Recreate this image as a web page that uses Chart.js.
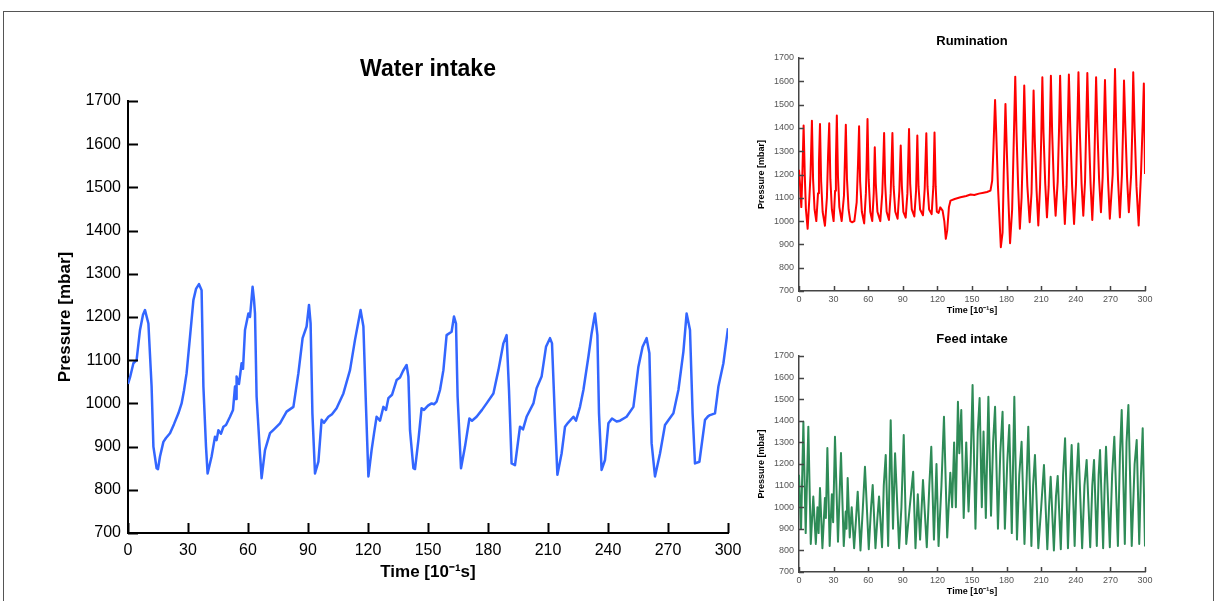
<!DOCTYPE html>
<html>
<head>
<meta charset="utf-8">
<script src="https://cdn.jsdelivr.net/npm/chart.js@4.4.1/dist/chart.umd.min.js"></script>
<style>
  html, body { margin: 0; padding: 0; background: #fff; }
  #page { position: relative; width: 1214px; height: 601px; overflow: hidden; }
  #frame { position: absolute; left: 3px; top: 11px; width: 1209px; height: 600px; border: 1px solid #555; border-bottom: none; }
  canvas { position: absolute; }
</style>
</head>
<body>
<div id="page">
  <div id="frame"></div>
  <canvas id="waterChart" width="760" height="601" style="left:0;top:0"></canvas>
  <canvas id="rumChart" width="450" height="300" style="left:730px;top:20px"></canvas>
  <canvas id="feedChart" width="450" height="283" style="left:730px;top:318px"></canvas>
</div>
<script>
// tick labels shared by all three panels
const timeTicks = [0, 30, 60, 90, 120, 150, 180, 210, 240, 270, 300];
const pressureTicks = [700, 800, 900, 1000, 1100, 1200, 1300, 1400, 1500, 1600, 1700];

// Water intake
const waterTime = [0, 1, 2.7, 4.3, 6, 7.5, 8.5, 10.2, 11.8, 12.7, 14.3, 15, 16, 17.7, 19, 21, 23, 25.2, 26.8, 28, 29.3, 31, 32.7, 34, 35.5, 36.8, 37.7, 39, 39.8, 41.8, 43.5, 44.3, 45.2, 46.5, 47.7, 49, 51, 52.5, 53.5, 54, 54.3, 55.5, 56.8, 57.5, 58.5, 60.2, 61, 62.3, 63, 63.5, 64.3, 66, 66.8, 68.5, 71, 73, 76, 79.3, 82.7, 85.2, 87.3, 89.3, 90.5, 91.3, 92.2, 93.5, 95.2, 96.8, 98, 100.2, 102, 104.3, 107.7, 111, 113.5, 116.3, 117.7, 119, 120.2, 121.8, 123, 124.3, 126, 127.7, 129, 130.2, 132, 134.3, 136, 137.5, 139.3, 140.2, 141, 142.7, 143.5, 145.2, 146.8, 148, 150, 151.8, 153, 154.3, 156, 157.7, 159.3, 161.8, 163, 164, 164.8, 166.5, 168.5, 170.7, 172, 174.3, 177, 179.3, 182.7, 185.2, 187.7, 189.3, 190.5, 191.8, 193.5, 196, 197.5, 199.3, 202.7, 204.3, 206.8, 209, 211, 212, 213.5, 214.7, 216.8, 218.5, 220, 222.7, 224, 226, 227.7, 230.2, 231.8, 233.5, 234.7, 235.5, 236.8, 238.5, 240.2, 242, 244.3, 246, 249.3, 252.7, 255.2, 257.3, 259.3, 260.7, 261.8, 263.5, 266, 268.5, 270, 272.7, 275.2, 277.7, 279.3, 281, 282.3, 283.5, 285.7, 288.5, 290, 291, 293.5, 295.2, 297.7, 300];
const waterPressure = [1045, 1060, 1093, 1100, 1170, 1205, 1216, 1185, 1039, 900, 850, 848, 877, 911, 920, 931, 952, 977, 1000, 1030, 1070, 1154, 1239, 1265, 1276, 1262, 1039, 900, 838, 877, 923, 915, 938, 930, 946, 950, 969, 985, 1039, 1010, 1062, 1045, 1093, 1080, 1170, 1208, 1200, 1270, 1240, 1208, 1016, 884, 827, 892, 931, 940, 954, 981, 992, 1070, 1151, 1178, 1228, 1185, 977, 838, 865, 962, 955, 969, 975, 989, 1023, 1077, 1147, 1216, 1178, 992, 831, 892, 930, 969, 960, 992, 985, 1012, 1020, 1054, 1060, 1075, 1089, 1062, 938, 850, 848, 915, 989, 985, 995, 1000, 998, 1004, 1031, 1077, 1158, 1166, 1201, 1185, 1016, 850, 900, 965, 960, 969, 985, 1000, 1023, 1077, 1139, 1158, 1031, 861, 857, 946, 940, 969, 1000, 1035, 1062, 1131, 1151, 1139, 962, 835, 884, 946, 955, 969, 960, 992, 1031, 1108, 1162, 1208, 1158, 977, 846, 869, 954, 965, 958, 960, 969, 992, 1085, 1131, 1151, 1116, 908, 831, 884, 950, 960, 977, 1031, 1120, 1208, 1170, 977, 861, 865, 962, 970, 973, 977, 1039, 1093, 1174];

// Rumination (small red panel)
const rumTime = [0, 1, 2, 2.8, 4, 5, 6, 7.5, 9, 10, 11.2, 12.2, 13.5, 15, 16.5, 17.3, 18.2, 19.2, 20.5, 22.5, 24.2, 25.2, 26.2, 27.2, 28.5, 30, 31.3, 32, 32.8, 33.8, 35, 37, 39, 39.8, 40.6, 41.6, 43, 44.5, 46, 48, 50, 51.2, 52.1, 53, 54.5, 56.5, 58, 58.7, 59.4, 60.4, 61.8, 63.5, 64.8, 65.7, 66.6, 68, 70.5, 72.2, 73, 73.8, 74.7, 76, 78, 79.5, 81, 82, 83.5, 85.5, 87, 88.2, 89.2, 90.5, 92.5, 94, 95.4, 96.4, 97.8, 100, 101.5, 102.6, 103.6, 105, 107.5, 109, 110.4, 111.4, 112.8, 115, 116.5, 117.5, 118.5, 119.5, 121, 122.5, 124.5, 126, 127.3, 128.5, 130, 131.4, 135, 140, 145, 148.7, 152, 156, 160, 163, 166, 167.5, 168.5, 170, 171, 172.5, 175, 176.5, 177.5, 179, 180.2, 181.5, 183, 184.8, 186, 187.5, 188.6, 190, 191.5, 193, 194.2, 195.3, 196.5, 198, 200, 201.6, 202.4, 203.4, 204.5, 206, 207.5, 209, 210, 211, 212, 213.5, 215, 216.5, 217.5, 218.4, 219.5, 221, 222.5, 224.3, 225.4, 226.4, 227.5, 229, 230.5, 232, 233, 234, 235.2, 236.8, 238.5, 240.2, 241.3, 242.3, 243.4, 245, 246.5, 248, 249, 250, 251.2, 252.8, 254.3, 255.8, 256.7, 257.6, 258.7, 260.2, 261.8, 263.3, 264.3, 265.3, 266.4, 268, 269.5, 272, 273, 274, 275.1, 276.6, 278.2, 280, 281, 281.8, 283, 284.5, 286, 288, 289, 289.8, 291, 292.6, 294.5, 296.5, 298, 299, 300];
const rumPressure = [1220, 1150, 1060, 1180, 1410, 1200, 1050, 967, 1100, 1200, 1431, 1180, 1050, 1000, 1120, 1250, 1417, 1170, 1040, 980, 1100, 1280, 1420, 1180, 1050, 1000, 1130, 1260, 1453, 1190, 1060, 1000, 1110, 1260, 1413, 1180, 1050, 1000, 995, 1000, 1080, 1250, 1407, 1170, 1040, 990, 1120, 1260, 1438, 1180, 1040, 1000, 1120, 1317, 1160, 1040, 1000, 1120, 1240, 1378, 1160, 1040, 1005, 1120, 1378, 1150, 1040, 1010, 1130, 1324, 1150, 1040, 1015, 1120, 1395, 1160, 1050, 1020, 1130, 1367, 1150, 1050, 1025, 1140, 1377, 1150, 1050, 1030, 1150, 1380, 1150, 1040, 1035, 1059, 1045, 1000, 924, 960, 1060, 1088, 1095, 1102, 1108, 1114, 1112, 1118, 1122, 1125, 1131, 1174, 1300, 1520, 1380, 1150, 888, 950, 1200, 1503, 1300, 1100, 905, 1050, 1300, 1620, 1380, 1150, 967, 1100, 1320, 1582, 1350, 1150, 995, 1120, 1300, 1560, 1340, 1130, 981, 1150, 1350, 1617, 1380, 1160, 1016, 1150, 1380, 1624, 1380, 1150, 1023, 1170, 1380, 1624, 1390, 1150, 988, 1150, 1400, 1629, 1400, 1150, 988, 1160, 1400, 1639, 1400, 1160, 1023, 1170, 1400, 1636, 1400, 1160, 1005, 1180, 1400, 1617, 1400, 1180, 1038, 1190, 1400, 1606, 1390, 1170, 1010, 1200, 1420, 1653, 1400, 1180, 1016, 1200, 1400, 1603, 1400, 1180, 1038, 1200, 1400, 1639, 1400, 1150, 981, 1200, 1420, 1591, 1202];

// Feed intake (small green panel)
const feedTime = [0, 1.8, 3.8, 5.8, 8.1, 10.2, 12.4, 14.6, 16, 17, 18.2, 20.3, 22.5, 23.3, 24.6, 26.6, 28.5, 29.6, 31.2, 33.8, 36.4, 38.8, 40.5, 41.2, 42.2, 44, 45.7, 47.8, 49.5, 50.9, 53.3, 55.2, 57.2, 60.5, 62.5, 63.9, 66.3, 68, 69.4, 72, 73.5, 75.2, 77.3, 79.5, 81.5, 83.3, 86.8, 88.8, 90.8, 93, 96, 99, 101, 103, 105, 107.5, 110.8, 113, 114.7, 117, 119.2, 121, 123.5, 125.7, 128.5, 131.2, 132.8, 134.5, 136, 137.8, 139, 140.7, 142.8, 145, 147, 148.8, 150.5, 153, 155, 156.6, 158.5, 160, 162, 164.2, 166.5, 168.3, 170, 172.5, 174.5, 176.5, 178.5, 180.5, 182.3, 184.5, 186.7, 189, 191, 193, 195.5, 197.5, 198.8, 201.5, 203, 204.6, 207.5, 210, 212.4, 215.3, 216.8, 218.2, 221, 222.8, 224.3, 227, 229, 230.7, 233.2, 235, 236.4, 239, 240.8, 242.2, 245.5, 247.5, 249.4, 252.5, 254.3, 255.8, 258.2, 259.8, 261, 263.7, 265, 266.2, 269.5, 271.5, 273.4, 276.5, 278.3, 279.8, 282.5, 284, 285.6, 288.5, 291, 292.8, 295, 296.5, 298, 300];
const feedPressure = [1150, 900, 1396, 880, 1373, 830, 1049, 830, 1000, 880, 1089, 810, 1043, 950, 1274, 820, 1060, 930, 1326, 840, 1251, 820, 980, 900, 1135, 860, 1000, 810, 950, 1072, 800, 980, 1187, 805, 1000, 1103, 810, 950, 1050, 815, 1100, 1242, 820, 1403, 900, 1250, 810, 1000, 1334, 830, 1000, 1164, 810, 1060, 850, 1126, 815, 1100, 1280, 850, 1200, 820, 1100, 1419, 860, 1160, 1000, 1300, 1000, 1488, 1250, 1450, 950, 1300, 980, 1200, 1566, 900, 1350, 1505, 1000, 1350, 950, 1511, 960, 1300, 1465, 900, 1250, 1442, 900, 1200, 1380, 880, 1511, 850, 1150, 1303, 830, 1150, 1373, 820, 1100, 1242, 810, 1000, 1195, 805, 1000, 1141, 800, 1050, 1145, 805, 1150, 1319, 810, 1100, 1288, 820, 1150, 1295, 810, 1100, 1219, 815, 1100, 1219, 820, 1150, 1265, 810, 1100, 1280, 815, 1150, 1326, 820, 1250, 1450, 830, 1300, 1473, 820, 1200, 1311, 830, 1150, 1365, 818];

const FONT = 'Arial, "Liberation Sans", sans-serif';

// tick marks drawn inward from the axes
const innerTicks = {
    id: 'innerTicks',
    afterDatasetsDraw(chart, args, opts) {
        const { ctx, chartArea, scales } = chart;
        ctx.save();
        ctx.strokeStyle = opts.color;
        ctx.lineWidth = opts.width;
        ctx.beginPath();
        scales.x.ticks.forEach(t => {
            const px = Math.round(scales.x.getPixelForValue(t.value)) + 0.5;
            ctx.moveTo(px, chartArea.bottom);
            ctx.lineTo(px, chartArea.bottom - opts.length);
        });
        scales.y.ticks.forEach(t => {
            const py = Math.round(scales.y.getPixelForValue(t.value)) + 0.5;
            ctx.moveTo(chartArea.left, py);
            ctx.lineTo(chartArea.left + opts.length, py);
        });
        ctx.stroke();
        ctx.restore();
    }
};

function makeChart(id, times, values, s) {
    const ctx = document.getElementById(id).getContext('2d');
    return new Chart(ctx, {
        type: 'line',
        data: {
            datasets: [{
                data: times.map((t, i) => ({ x: t, y: values[i] })),
                borderColor: s.color,
                borderWidth: s.lineWidth,
                borderJoinStyle: 'round',
                pointRadius: 0,
                tension: 0,
                fill: false,
            }],
        },
        options: {
            responsive: false,
            animation: false,
            devicePixelRatio: 1,
            layout: { padding: s.padding },
            plugins: {
                legend: { display: false },
                tooltip: { enabled: false },
                title: {
                    display: true,
                    text: s.title,
                    fullSize: false,
                    color: '#000',
                    font: { family: FONT, size: s.titleSize, weight: 'bold', lineHeight: 1.2 },
                    padding: s.titlePad,
                },
                innerTicks: { color: s.axisColor, width: s.axisWidth, length: s.tickLen },
            },
            scales: {
                x: {
                    type: 'linear',
                    min: 0,
                    max: 300,
                    afterBuildTicks: sc => { sc.ticks = timeTicks.map(v => ({ value: v })); },
                    afterFit: sc => { sc.height = s.xHeight; },
                    grid: { display: true, drawOnChartArea: false, drawTicks: false },
                    border: { display: true, color: s.axisColor, width: s.axisWidth },
                    ticks: { color: s.labelColor, padding: s.xLabelPad, maxRotation: 0, callback: v => String(v), font: { family: FONT, size: s.labelSize } },
                    title: {
                        display: true,
                        text: 'Time [10⁻¹s]',
                        color: '#000',
                        font: { family: FONT, size: s.axisTitleSize, weight: 'bold', lineHeight: 1.2 },
                        padding: { top: 0, bottom: s.xTitlePad },
                    },
                },
                y: {
                    min: 700,
                    max: 1700,
                    afterBuildTicks: sc => { sc.ticks = pressureTicks.map(v => ({ value: v })); },
                    afterFit: sc => { sc.width = s.yWidth; },
                    grid: { display: true, drawOnChartArea: false, drawTicks: false },
                    border: { display: true, color: s.axisColor, width: s.axisWidth },
                    ticks: { color: s.labelColor, padding: s.yLabelPad, callback: v => String(v), font: { family: FONT, size: s.labelSize } },
                    title: {
                        display: true,
                        text: 'Pressure [mbar]',
                        color: '#000',
                        font: { family: FONT, size: s.axisTitleSize, weight: 'bold', lineHeight: 1.2 },
                        padding: { top: s.yTitlePad, bottom: 0 },
                    },
                },
            },
        },
        plugins: [innerTicks],
    });
}

makeChart('waterChart', waterTime, waterPressure, {
    title: 'Water intake', titleSize: 23, titlePad: { top: 56.2, bottom: 17.2 },
    color: 'rgb(51, 102, 255)', lineWidth: 2.5,
    padding: { left: 50, right: 32, top: 0, bottom: 10 },
    yWidth: 78, xHeight: 58,
    axisColor: '#000', axisWidth: 2, tickLen: 10,
    labelColor: '#000', labelSize: 16, axisTitleSize: 17,
    xLabelPad: 8, yLabelPad: 7, xTitlePad: 8.8, yTitlePad: 4.8,
});

const smallStyle = {
    titleSize: 13, titlePad: { top: 13.2, bottom: 9.2 },
    lineWidth: 2,
    padding: { left: 20, right: 35, top: 0, bottom: 4 },
    yWidth: 49, xHeight: 25,
    axisColor: '#444', axisWidth: 1.5, tickLen: 5,
    labelColor: '#555', labelSize: 9, axisTitleSize: 9,
    xLabelPad: 3, yLabelPad: 5, xTitlePad: 0, yTitlePad: 6.6,
};

makeChart('rumChart', rumTime, rumPressure, Object.assign({}, smallStyle, { title: 'Rumination', color: '#ff0000' }));
makeChart('feedChart', feedTime, feedPressure, Object.assign({}, smallStyle, { title: 'Feed intake', color: 'rgb(46, 139, 87)' }));
</script>
</body>
</html>
